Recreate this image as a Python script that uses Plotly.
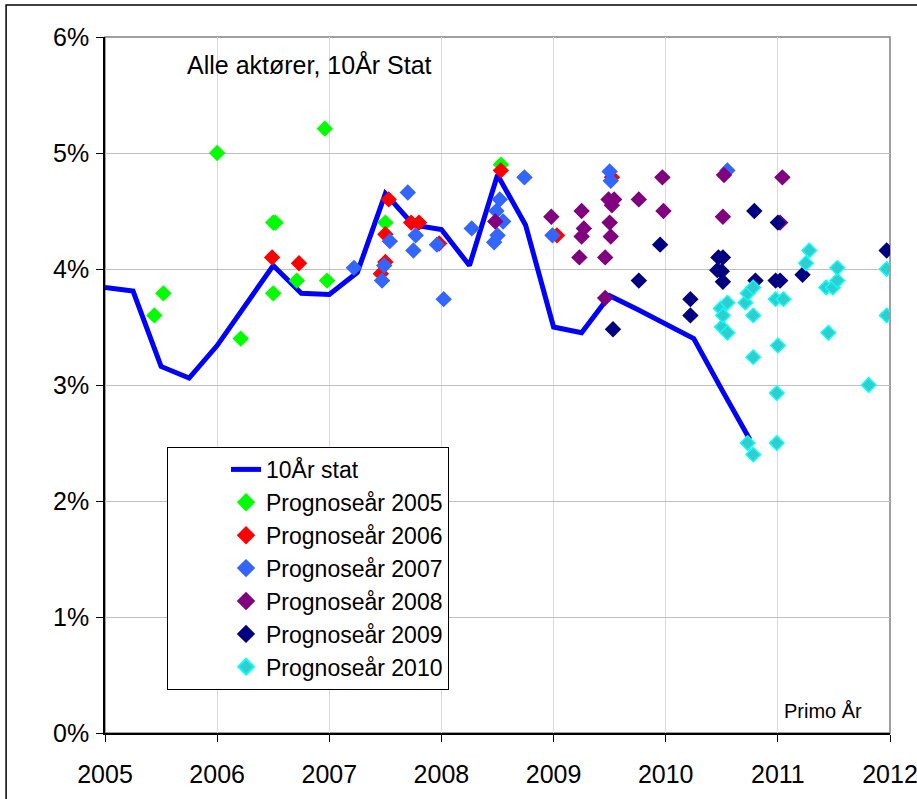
import plotly.graph_objects as go

# 10-year government bond yield, quarterly (Primo)
stat_x = [2005.0, 2005.25, 2005.5, 2005.75, 2006.0, 2006.25, 2006.5, 2006.75,
          2007.0, 2007.25, 2007.5, 2007.75, 2008.0, 2008.25, 2008.5, 2008.75,
          2009.0, 2009.25, 2009.5, 2009.75, 2010.0, 2010.25, 2010.5, 2010.75]
stat_y = [3.84, 3.81, 3.16, 3.06, 3.34, 3.69, 4.03, 3.79,
          3.78, 3.97, 4.65, 4.38, 4.34, 4.03, 4.81, 4.38,
          3.50, 3.45, 3.77, 3.65, 3.53, 3.40, 2.96, 2.53]

# Forecasts by forecast year
p2005_x = [2005.44, 2005.52, 2006.0, 2006.21, 2006.5, 2006.52, 2006.5, 2006.71,
           2006.96, 2006.98, 2007.5, 2008.53]
p2005_y = [3.60, 3.79, 5.00, 3.40, 4.40, 4.40, 3.79, 3.90,
           5.21, 3.90, 4.40, 4.90]

p2006_x = [2006.49, 2006.73, 2007.46, 2007.5, 2007.5, 2007.53, 2007.73, 2007.8,
           2007.98, 2008.53, 2009.03, 2009.52]
p2006_y = [4.10, 4.05, 3.96, 4.06, 4.30, 4.60, 4.40, 4.40,
           4.22, 4.85, 4.29, 4.79]

p2007_x = [2007.22, 2007.47, 2007.49, 2007.54, 2007.7, 2007.75, 2007.77, 2007.96,
           2008.02, 2008.27, 2008.47, 2008.5, 2008.49, 2008.52, 2008.55, 2008.74,
           2008.99, 2009.5, 2009.51, 2010.55]
p2007_y = [4.01, 3.90, 4.03, 4.24, 4.66, 4.16, 4.29, 4.21,
           3.74, 4.35, 4.23, 4.29, 4.50, 4.60, 4.41, 4.79,
           4.29, 4.84, 4.76, 4.85]

p2008_x = [2008.48, 2008.98, 2009.25, 2009.27, 2009.25, 2009.23, 2009.46, 2009.49,
           2009.54, 2009.52, 2009.5, 2009.51, 2009.46, 2009.76, 2009.97, 2009.98,
           2010.51, 2010.52, 2011.04, 2011.02]
p2008_y = [4.41, 4.45, 4.50, 4.35, 4.28, 4.10, 4.10, 4.60,
           4.60, 4.55, 4.40, 4.28, 3.75, 4.60, 4.79, 4.50,
           4.45, 4.81, 4.79, 4.40]

p2009_x = [2009.53, 2009.76, 2009.95, 2010.22, 2010.22, 2010.47, 2010.51, 2010.46,
           2010.5, 2010.51, 2010.79, 2010.8, 2010.98, 2011.0, 2011.02, 2011.22,
           2011.97]
p2009_y = [3.48, 3.90, 4.21, 3.74, 3.60, 4.10, 4.10, 3.99,
           3.98, 3.89, 4.50, 3.90, 3.90, 4.40, 3.90, 3.95,
           4.16]

p2010_x = [2010.49, 2010.5, 2010.51, 2010.55, 2010.55, 2010.71, 2010.73, 2010.73,
           2010.78, 2010.78, 2010.78, 2010.78, 2010.98, 2010.99, 2010.99, 2011.0,
           2011.05, 2011.25, 2011.28, 2011.43, 2011.45, 2011.49, 2011.53, 2011.53,
           2011.81, 2011.97, 2011.97]
p2010_y = [3.66, 3.50, 3.60, 3.71, 3.45, 3.71, 3.79, 2.50,
           3.84, 3.60, 3.24, 2.40, 3.74, 2.93, 2.50, 3.34,
           3.74, 4.05, 4.16, 3.84, 3.45, 3.84, 3.90, 4.01,
           3.00, 4.00, 3.60]

x_ticks = [2005, 2006, 2007, 2008, 2009, 2010, 2011, 2012]
y_ticks = [0, 1, 2, 3, 4, 5, 6]

FONT = "Arial, Liberation Sans, sans-serif"

fig = go.Figure()

fig.add_trace(go.Scatter(
    x=stat_x, y=stat_y, mode="lines", name="10År stat",
    line=dict(color="#0000ff", width=5),
))

series = [
    ("Prognoseår 2005", p2005_x, p2005_y, "#00ff00", "#00ff00"),
    ("Prognoseår 2006", p2006_x, p2006_y, "#ff0000", "#ff0000"),
    ("Prognoseår 2007", p2007_x, p2007_y, "#3366ff", "#3366ff"),
    ("Prognoseår 2008", p2008_x, p2008_y, "#800080", "#800080"),
    ("Prognoseår 2009", p2009_x, p2009_y, "#000080", "#000080"),
    ("Prognoseår 2010", p2010_x, p2010_y, "#33cccc", "#00ffff"),
]
for name, xs, ys, fill, edge in series:
    fig.add_trace(go.Scatter(
        x=xs, y=ys, mode="markers", name=name,
        marker=dict(symbol="diamond", size=11, color=fill,
                    line=dict(color=edge, width=1.5)),
    ))

fig.update_layout(
    width=917, height=799,
    margin=dict(l=105, r=27, t=37, b=66),
    paper_bgcolor="white", plot_bgcolor="white",
    font=dict(family=FONT, size=25, color="black"),
    showlegend=True,
    legend=dict(
        x=0.079, y=0.411, xanchor="left", yanchor="top",
        bgcolor="white", bordercolor="black", borderwidth=1,
        font=dict(family=FONT, size=23, color="black"),
        tracegroupgap=0, itemsizing="constant", indentation=58,
        entrywidth=222, entrywidthmode="pixels",
    ),
    xaxis=dict(
        range=[2005, 2012], tickvals=x_ticks, ticktext=[str(v) for v in x_ticks],
        showgrid=True, gridcolor="#d9d9d9", gridwidth=1,
        showline=True, linecolor="black", linewidth=1.5,
        ticks="outside", ticklen=7, tickcolor="black",
        ticklabelstandoff=11, zeroline=False, automargin=False,
        ticklabeloverflow="allow",
    ),
    yaxis=dict(
        range=[0, 6], tickvals=y_ticks, ticktext=[f"{v}%" for v in y_ticks],
        showgrid=True, gridcolor="#bfbfbf", gridwidth=1,
        showline=True, linecolor="black", linewidth=1.5,
        ticks="outside", ticklen=7, tickcolor="black",
        ticklabelstandoff=2, zeroline=False, automargin=False,
        ticklabeloverflow="allow",
    ),
    shapes=[
        # plot-area frame (top and right edges)
        dict(type="rect", xref="paper", yref="paper", x0=0, x1=1, y0=0, y1=1,
             line=dict(color="#808080", width=1.5), layer="below"),
        # chart-area frame
        dict(type="rect", xref="paper", yref="paper", x0=-0.126, x1=1.06,
             y0=-0.12, y1=1.046, line=dict(color="black", width=1.5)),
    ],
    annotations=[
        dict(text="Alle aktører, 10År Stat", xref="paper", yref="paper",
             x=0.102, y=0.961, xanchor="left", yanchor="middle",
             showarrow=False, font=dict(family=FONT, size=25, color="black")),
        dict(text="Primo År", xref="paper", yref="paper",
             x=0.862, y=0.032, xanchor="left", yanchor="middle",
             showarrow=False, font=dict(family=FONT, size=20, color="black")),
    ],
)

fig.write_html("out.html")
